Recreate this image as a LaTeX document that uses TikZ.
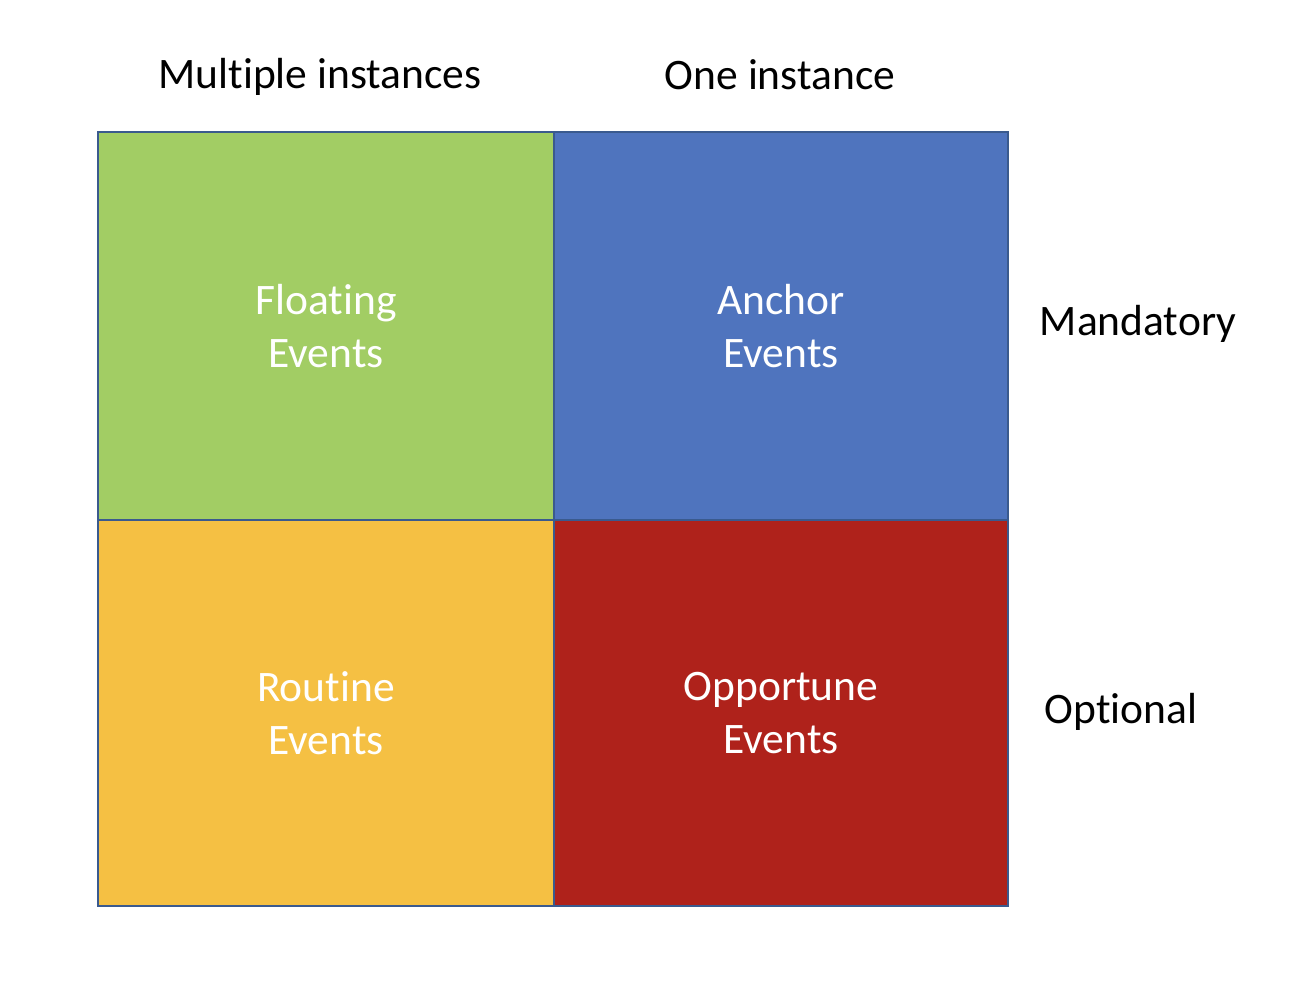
\documentclass[tikz,border=0pt]{standalone}
\usepackage{fontspec}
\setmainfont[Ligatures=NoCommon]{Carlito}
\definecolor{cgreen}{HTML}{A2CD64}
\definecolor{cblue}{HTML}{4F74BE}
\definecolor{cyellow}{HTML}{F5C043}
\definecolor{cred}{HTML}{AF221B}
\definecolor{cborder}{HTML}{3A5A8E}
\begin{document}
\begin{tikzpicture}[x=1pt,y=-1pt,
  cell/.style={draw=cborder,line width=2pt,minimum width=456pt,minimum height=388pt,inner sep=0pt,anchor=north west,
    text=white,align=center,font=\fontsize{43.5}{53}\selectfont},
  lbl/.style={font=\fontsize{43.5}{52}\selectfont,text=black,inner sep=0pt}]
\useasboundingbox (0,0) rectangle (1302,996);
\node[cell,fill=cgreen] (fl) at (97,131) {Floating\\Events};
\node[cell,fill=cblue,minimum width=454pt] (an) at (553,131) {Anchor\\Events};
\node[cell,fill=cyellow,minimum height=386pt] (ro) at (97,519) {Routine\\Events};
\node[cell,fill=cred,minimum width=454pt,minimum height=386pt] (op) at (553,519) {Opportune\\Events};
\node[lbl] (h1) at (320,77) {Multiple instances};
\node[lbl] (h2) at (780,75) {One instance};
\node[lbl] (m) at (1138,324) {Mandatory};
\node[lbl] (o) at (1121,712) {Optional};
\end{tikzpicture}
\end{document}
